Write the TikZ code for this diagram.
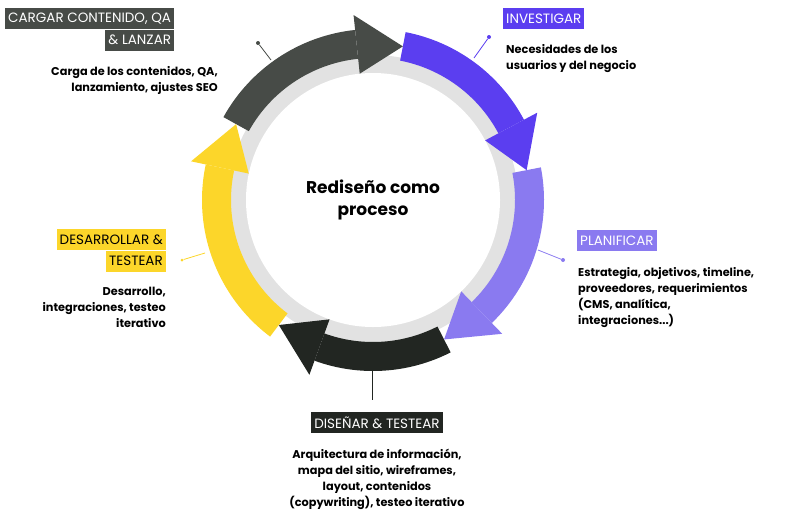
\documentclass[tikz,border=0pt]{standalone}
\usepackage{fontspec}
\setmainfont{Poppins}
\begin{document}
\begin{tikzpicture}[x=1pt,y=-1pt,
  ttl/.style={inner xsep=3pt,inner ysep=2pt,font=\fontsize{13.5}{15}\selectfont,anchor=north west,minimum height=21pt},
  dsc/.style={font=\fontsize{11.3}{16}\selectfont\bfseries,align=left,anchor=north west,inner sep=0pt},
  lead/.style={line width=0.8pt},
  dot/.style={circle,fill,inner sep=0pt,minimum size=4pt}]
\definecolor{cg}{HTML}{474B47}\definecolor{cp}{HTML}{5B3EF0}\definecolor{clp}{HTML}{8A7AF0}
\definecolor{cb}{HTML}{222622}\definecolor{cy}{HTML}{FCD62A}\definecolor{ring}{HTML}{E2E2E2}
\useasboundingbox (0,0) rectangle (800,528);
\begin{scope}[shift={(373,200)},yscale=-1]
 \fill[ring] (0,0) circle (145);
 \fill[white] (0,0) circle (127);
 \def\h{17}
 \foreach \c/\a/\b in {cg/151/79,cp/79/11,clp/11/-63,cb/-63/-127,cy/-127/-209}{
   \pgfmathsetmacro\bb{\b+\h}
   \fill[\c] (\a:171) arc[start angle=\a,end angle=\bb,radius=171] -- (\bb:142) arc[start angle=\bb,end angle=\a,radius=142] -- cycle;}
 \foreach \c/\b in {cg/79,cp/11,clp/-63,cb/-127,cy/-209}{
   \pgfmathsetmacro\bb{\b+\h}
   \fill[\c] (\bb:186) -- (\b:156.5) -- (\bb:127) -- cycle;}
\end{scope}
\node[font=\fontsize{17}{22}\selectfont\bfseries,align=center] (ctr) at (373,200) {Rediseño como\\proceso};
\node[ttl,fill=cg,text=white] (t1) at (5,8) {CARGAR CONTENIDO, QA};
\node[ttl,fill=cg,text=white,anchor=north east] (t1b) at (t1.south east) {\& LANZAR};
\node[dsc,align=right,anchor=north east] (d1) at (218,66) {Carga de los contenidos, QA,\\lanzamiento, ajustes SEO};
\node[ttl,fill=cp,text=white] (t2) at (503,8) {INVESTIGAR};
\node[dsc] (d2) at (506,44) {Necesidades de los\\usuarios y del negocio};
\node[ttl,fill=clp,text=white] (t3) at (577,230) {PLANIFICAR};
\node[dsc] (d3) at (578,267) {Estrategia, objetivos, timeline,\\proveedores, requerimientos\\(CMS, analítica,\\integraciones...)};
\node[ttl,fill=cb,text=white,anchor=north] (t4) at (377,412) {DISEÑAR \& TESTEAR};
\node[dsc,align=center,anchor=north] (d4) at (377,449) {Arquitectura de información,\\mapa del sitio, wireframes,\\layout, contenidos\\(copywriting), testeo iterativo};
\node[ttl,fill=cy,anchor=north east] (t5) at (166,229) {DESARROLLAR \&};
\node[ttl,fill=cy,anchor=north east] (t5b) at (t5.south east) {TESTEAR};
\node[dsc,align=right,anchor=north east] (d5) at (166,287) {Desarrollo,\\integraciones, testeo\\iterativo};
\node[dot,fill=cg] (p1) at (258,43) {}; \coordinate (q1) at (271,60); \draw[lead,cg] (p1) -- (q1);
\node[dot,fill=cp] (p2) at (489,37) {}; \coordinate (q2) at (474,58); \draw[lead,cp] (p2) -- (q2);
\node[dot,fill=clp] (p3) at (563,260) {}; \coordinate (q3) at (538,250); \draw[lead,clp] (p3) -- (q3);
\node[dot,fill=cy,minimum size=3pt] (p5) at (182,260) {}; \coordinate (q5) at (205,253); \draw[lead,cy] (p5) -- (q5);
\coordinate (q4) at (372,371); \coordinate (p4) at (372,400); \draw[lead,cb] (q4) -- (p4);
\end{tikzpicture}
\end{document}
